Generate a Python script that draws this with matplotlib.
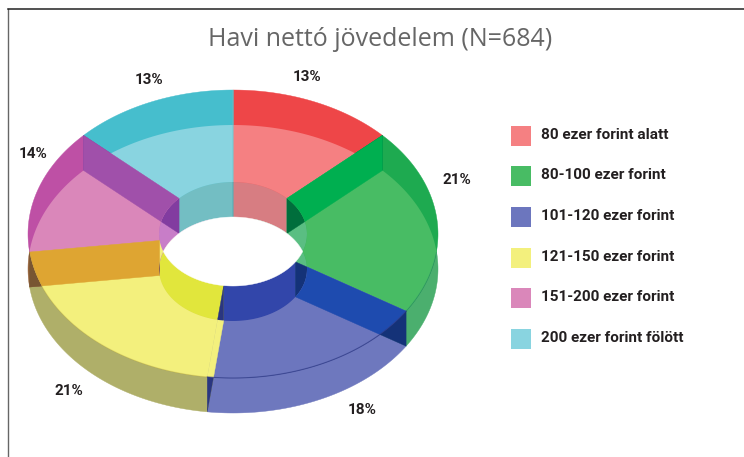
import numpy as np
import matplotlib
matplotlib.use("Agg")
import matplotlib.pyplot as plt
from matplotlib.path import Path
from matplotlib.patches import Polygon, Rectangle

# data
categories = ["80 ezer forint alatt", "80-100 ezer forint", "101-120 ezer forint",
              "121-150 ezer forint", "151-200 ezer forint", "200 ezer forint fölött"]
values = [13, 21, 18, 21, 14, 13]
title = "Havi nettó jövedelem (N=684)"

# styles
light = ["#F58082", "#48BC64", "#6C76BE", "#F3F07D", "#DA87BA", "#89D4E0"]
back = ["#EE4648", "#1EAA50", "#4A55A8", "#D8D050", "#BE50A5", "#46BECD"]
near = ["#D06060", "#4BAF6E", "#6E78BE", "#AFAF69", "#96643C", "#60B0C0"]
inner = ["#D77D82", "#5ABE82", "#3246AA", "#E1E63C", "#C87DC8", "#73BEC3"]
wall = ["#00AF50", "#1E4BAF", "#F3F07D", "#DEA532", "#A050AA", "#70C8D0"]
wall_dark = ["#006E3C", "#143278", "#2A3680", "#785532", "#823CA0", "#50A8B0"]
rim_alpha = [0, 0.15, 0.6, 0.1, 0, 0]
label_xy = [(307, 77), (457, 180), (362, 410), (69, 391), (33, 154), (149, 80)]
legend_y = [126, 166, 207, 248, 288, 329]

CX, CY_TOP, DEPTH = 233, 234, 35
RX, RY, IRX, IRY = 205, 144, 74, 52
CY_BOT = CY_TOP + DEPTH
MID = CY_TOP + DEPTH / 2

plt.rcParams["font.family"] = ["Open Sans", "DejaVu Sans"]
fig = plt.figure(figsize=(7.44, 4.57), dpi=100)
ax = fig.add_axes([0, 0, 1, 1])
ax.set_xlim(0, 744)
ax.set_ylim(457, 0)
ax.axis("off")

edges = np.cumsum([0] + values) / sum(values) * 2 * np.pi


def pt(t, cy, rx, ry):
    return np.column_stack([CX + rx * np.sin(t), cy - ry * np.cos(t)])


def wedge(t0, t1, cy, rx, ry):
    t = np.linspace(t0, t1, 80)
    return np.vstack([[[CX, cy]], pt(t, cy, rx, ry)])


def strip(t0, t1):
    t = np.linspace(t0, t1, 80)
    return np.vstack([pt(t, CY_TOP, IRX, IRY), pt(t[::-1], CY_BOT, IRX, IRY)])


def lens_outline(rx, ry, upper_cy, lower_cy):
    a = np.arccos(np.clip((upper_cy - MID) / ry, -1, 1))
    up = pt(np.linspace(-a, a, 120), upper_cy, rx, ry)
    b = np.arccos(np.clip((lower_cy - MID) / ry, -1, 1))
    lo = pt(np.linspace(b, 2 * np.pi - b, 120), lower_cy, rx, ry)
    return np.vstack([up, lo])


outer_lens = lens_outline(RX, RY, CY_BOT, CY_TOP)
inner_union = lens_outline(IRX, IRY, CY_TOP, CY_BOT)
hole = lens_outline(IRX, IRY, CY_BOT, CY_TOP)
upper_ellipse = pt(np.linspace(0, 2 * np.pi, 240, endpoint=False), CY_TOP, RX, RY)


def closed_path(*polys):
    verts, codes = [], []
    for p in polys:
        verts.extend(p.tolist() + [p[0].tolist()])
        codes.extend([Path.MOVETO] + [Path.LINETO] * (len(p) - 1) + [Path.CLOSEPOLY])
    return Path(verts, codes)


ring = closed_path(outer_lens, inner_union[::-1])
upper_ring = closed_path(upper_ellipse, inner_union[::-1])


def poly(xy, color, z, clip=None):
    p = Polygon(xy, closed=True, facecolor=color, edgecolor=color, linewidth=0.3, zorder=z)
    ax.add_patch(p)
    if clip is not None:
        p.set_clip_path(clip, transform=ax.transData)
    return p


n = len(values)
for i in range(n):
    t0, t1 = edges[i], edges[i + 1]
    poly(wedge(t0, t1, CY_BOT, RX, RY), near[i], 1)
    poly(wedge(t0, t1, CY_TOP, RX, RY), back[i], 2)


def wall_quad(t):
    ta = np.array([t])
    return np.vstack([pt(ta, CY_TOP, IRX, IRY), pt(ta, CY_TOP, RX, RY),
                      pt(ta, CY_BOT, RX, RY), pt(ta, CY_BOT, IRX, IRY)])


for i in range(n):
    poly(wall_quad(edges[i + 1]), wall_dark[i], 4)
for i in range(n):
    poly(wedge(edges[i], edges[i + 1], CY_TOP, RX, RY), light[i], 5, clip=ring)
for i in range(n):
    poly(strip(edges[i], edges[i + 1]), inner[i], 3)
for i in range(n):
    poly(wall_quad(edges[i + 1]), wall[i], 6, clip=upper_ring)

for i in range(n):
    if rim_alpha[i] > 0:
        t = np.linspace(edges[i], edges[i + 1], 80)
        xy = pt(t, CY_TOP, RX, RY)
        keep = xy[:, 1] > MID
        ax.plot(xy[keep, 0], xy[keep, 1], color=wall_dark[i], lw=0.8,
                alpha=rim_alpha[i], zorder=7)

poly(hole, "white", 8)

# frame
ax.plot([8, 8], [457, 9], color="#666666", lw=1.0, zorder=9)
ax.plot([8, 744], [9, 9], color="#222222", lw=1.1, zorder=9)

ax.text(380, 40, title, ha="center", va="center", fontsize=18, color="#666666", zorder=10)

bold = ["Roboto", "Liberation Sans", "DejaVu Sans"]
for (x, y), v in zip(label_xy, values):
    ax.text(x, y, f"{v}%", ha="center", va="center", fontsize=11, fontweight="bold",
            color="#231F20", family=bold, zorder=10)

for y, c, name in zip(legend_y, light, categories):
    ax.add_patch(Rectangle((511, y), 20, 20, facecolor=c, edgecolor="none", zorder=10))
    ax.text(541, y + 9, name, ha="left", va="center", fontsize=11, fontweight="bold",
            color="#231F20", family=bold, zorder=10)

fig.savefig("out.png", dpi=100)
